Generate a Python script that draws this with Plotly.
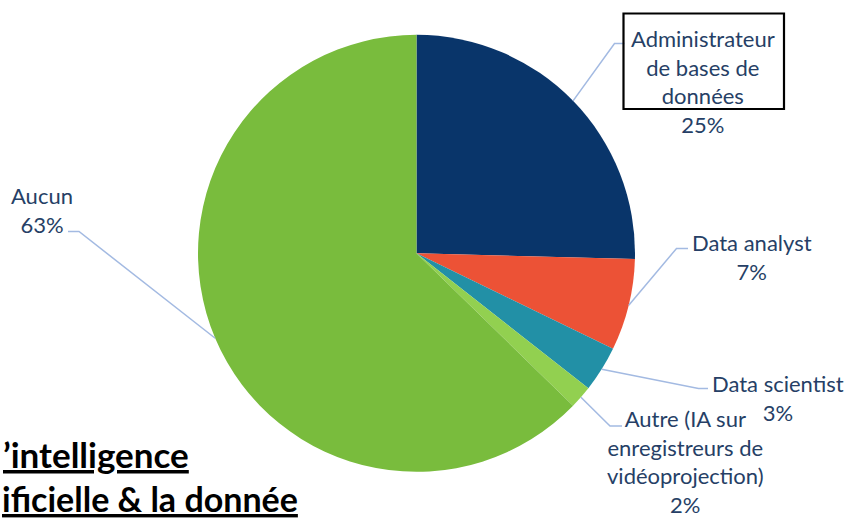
import math
import plotly.graph_objects as go

# ---- data ----
categories = [
    "Administrateur de bases de données",
    "Data analyst",
    "Data scientist",
    "Autre (IA sur enregistreurs de vidéoprojection)",
    "Aucun",
]
values = [15, 4, 2, 1, 37]
label_texts = [
    "Administrateur<br>de bases de<br>données",
    "Data analyst",
    "Data scientist",
    "Autre (IA sur<br>enregistreurs de<br>vidéoprojection)",
    "Aucun",
]
title_lines = ["’intelligence", "ificielle & la donnée"]
colors = ["#09356A", "#EC5236", "#2290A6", "#92D050", "#79BC3D"]

# ---- layout constants (pixels) ----
W, H = 848, 519
CX, CY, R = 416.5, 253.3, 218.5
TEXT_COLOR = "#263F66"
LINE_COLOR = "#A3BAE2"
FONT = "Lato"
FS = 22

# label block centers and leader elbow/end points
label_pos = [(703, 81.5), (752, 256.5), (778, 397.5), (685, 461), (42, 210)]
elbows = [((614.5, 43.5), (624.5, 43.5)),
          ((676.5, 248.5), (688, 248.5)),
          ((698.5, 388.5), (708, 388.5)),
          ((610, 426), (622, 426)),
          ((79, 231.5), (68, 231.5))]


def px(x):
    return x / W


def py(y):
    return 1 - y / H


fig = go.Figure(go.Pie(
    labels=categories,
    values=values,
    sort=False,
    direction="clockwise",
    rotation=0,
    textinfo="none",
    hoverinfo="label+percent",
    marker=dict(colors=colors, line=dict(width=0)),
    domain=dict(x=[px(CX - R), px(CX + R)], y=[py(CY + R), py(CY - R)]),
    showlegend=False,
))

total = sum(values)
shapes = []
annotations = []
cum = 0
for i, v in enumerate(values):
    mid = (cum + v / 2) / total
    cum += v
    ang = 2 * math.pi * mid
    sx = CX + R * math.sin(ang)
    sy = CY - R * math.cos(ang)
    (ex, ey), (fx, fy) = elbows[i]
    path = f"M {px(sx)} {py(sy)} L {px(ex)} {py(ey)} L {px(fx)} {py(fy)}"
    shapes.append(dict(type="path", xref="paper", yref="paper", path=path,
                       line=dict(color=LINE_COLOR, width=1.5)))
    pct = round(100 * v / total)
    lx, ly = label_pos[i]
    annotations.append(dict(
        x=px(lx), y=py(ly), xref="paper", yref="paper",
        text=f"{label_texts[i]}<br>{pct}%", showarrow=False,
        xanchor="center", yanchor="middle", align="center",
        font=dict(family=FONT, size=FS, color=TEXT_COLOR),
    ))

# box around first label
shapes.append(dict(type="rect", xref="paper", yref="paper",
                   x0=px(623.5), x1=px(784), y0=py(109), y1=py(13.5),
                   line=dict(color="black", width=2.2)))

# title fragment at bottom left
annotations.append(dict(x=px(1), y=py(454), xref="paper", yref="paper",
                        text=f"<b><u>{title_lines[0]}</u></b>", showarrow=False,
                        xanchor="left", yanchor="middle",
                        font=dict(family=FONT, size=35, color="black")))
annotations.append(dict(x=px(0), y=py(498), xref="paper", yref="paper",
                        text=f"<b><u>{title_lines[1]}</u></b>", showarrow=False,
                        xanchor="left", yanchor="middle",
                        font=dict(family=FONT, size=34, color="black")))

fig.update_layout(
    width=W, height=H,
    margin=dict(l=0, r=0, t=0, b=0),
    paper_bgcolor="white",
    plot_bgcolor="white",
    shapes=shapes,
    annotations=annotations,
)

fig.write_html("out.html", config={"displayModeBar": False},
               post_script="document.body.style.margin='0';")
